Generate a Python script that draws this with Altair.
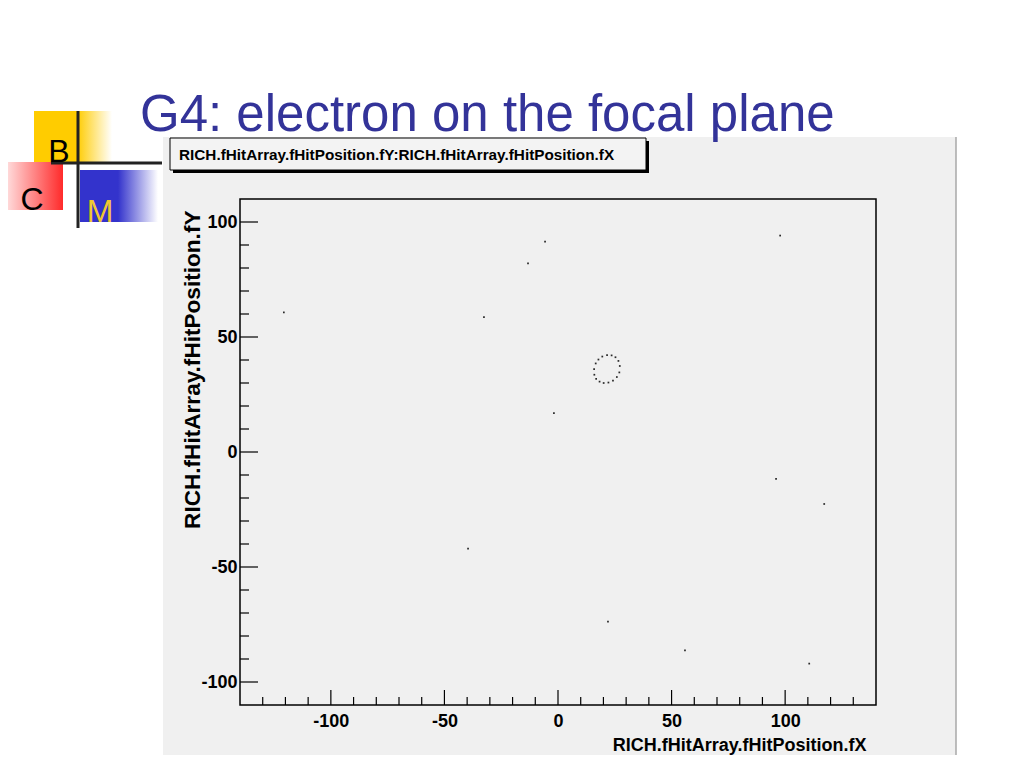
import altair as alt
import pandas as pd

# ---- data ----
# isolated hits on the focal plane
stray_x = [-120.7, -5.7, -13.2, 97.8, -32.6, -1.8, 96.0, 117.2, -39.6, 22.0, 55.9, 110.6]
stray_y = [60.7, 91.5, 82.0, 94.1, 58.6, 16.9, -11.7, -22.6, -42.0, -73.8, -86.3, -92.0]
# hits forming the electron's Cherenkov ring
ring_x = [27.2, 26.6, 25.3, 23.6, 21.6, 19.5, 17.8, 16.6, 15.9, 16.0, 16.8,
          18.3, 20.1, 22.2, 24.2, 25.9, 27.0]
ring_y = [37.4, 39.6, 41.2, 42.0, 42.1, 41.5, 40.2, 38.5, 36.0, 33.6, 31.8,
          30.6, 30.0, 30.2, 31.0, 32.6, 34.6]

x_major = [-100, -50, 0, 50, 100]
x_minor = [-130, -120, -110, -90, -80, -70, -60, -40, -30, -20, -10,
           10, 20, 30, 40, 60, 70, 80, 90, 110, 120, 130]
y_major = [-100, -50, 0, 50, 100]
y_minor = [-90, -80, -70, -60, -40, -30, -20, -10, 10, 20, 30, 40, 60, 70, 80, 90]

x_domain = [-140, 140]
y_domain = [-110, 110]

slide_title = "G4: electron on the focal plane"
hist_title = "RICH.fHitArray.fHitPosition.fY:RICH.fHitArray.fHitPosition.fX"
x_title = "RICH.fHitArray.fHitPosition.fX"
y_title = "RICH.fHitArray.fHitPosition.fY"

SANS = "Liberation Sans, Arial, Helvetica, sans-serif"
W, H = 636, 506

hits = pd.DataFrame({"x": stray_x + ring_x, "y": stray_y + ring_y})
one = alt.Data(values=[{"k": 0}])

xs = alt.Scale(domain=x_domain, nice=False, zero=False)
ys = alt.Scale(domain=y_domain, nice=False, zero=False)

x_axis = alt.Axis(values=x_major, ticks=False, domain=False, grid=False, zindex=1,
                  labelExpr="'' + datum.value",
                  labelPadding=7, labelFont=SANS, labelFontSize=18,
                  labelFontWeight="bold", labelColor="black",
                  title=x_title, titleFont=SANS, titleFontSize=18,
                  titleFontWeight="bold", titleColor="black",
                  titleAlign="right", titleBaseline="alphabetic",
                  titleAnchor="end", titleX=626, titleY=45)
y_axis = alt.Axis(values=y_major, ticks=False, domain=False, grid=False, zindex=1,
                  labelExpr="'' + datum.value",
                  labelPadding=3, labelFont=SANS, labelFontSize=18,
                  labelFontWeight="bold", labelColor="black",
                  title=y_title, titleFont=SANS, titleFontSize=22.6,
                  titleFontWeight="bold", titleColor="black",
                  titleAngle=-90, titleAlign="right", titleBaseline="alphabetic",
                  titleAnchor="end", titleX=-41, titleY=11)


def box(x, x2, y, y2, **kw):
    return alt.Chart(one).mark_rect(**kw).encode(
        x=alt.value(x), x2=alt.value(x2), y=alt.value(y), y2=alt.value(y2))


def line(x, x2, y, y2, **kw):
    return alt.Chart(one).mark_rule(**kw).encode(
        x=alt.value(x), x2=alt.value(x2), y=alt.value(y), y2=alt.value(y2))


def label(s, x, y, **kw):
    return alt.Chart(one).mark_text(text=s, **kw).encode(x=alt.value(x), y=alt.value(y))


# ROOT canvas background
canvas = box(-77, 716, -62, 580, color="#f0f0f0")
canvas_edge = line(716, 716, -62, 580, color="#a8a8a8", strokeWidth=1.5)

# histogram title box with shadow
shadow = box(-67, 409, -58, -26, color="black")
tbox = box(-70, 406, -61, -29, fill="#f3f3f3", stroke="black", strokeWidth=1)
ttext = label(hist_title, -61, -44, align="left", baseline="middle",
              font=SANS, fontSize=15.3, fontWeight="bold", color="black")

# slide title
stitle = label(slide_title, -100, -68, align="left", baseline="alphabetic",
               font=SANS, fontSize=51, color="#333399")

# logo
def grad(c1, c2):
    return alt.LinearGradient(gradient="linear",
                              stops=[alt.GradientStop(color=c1, offset=0),
                                     alt.GradientStop(color=c2, offset=1)],
                              x1=0, x2=1, y1=0, y2=0)

yellow = box(-206, -163, -88, -37, color="#ffcc00")
yellow_f = box(-163, -128, -88, -37, color=grad("#ffcc00", "#ffffff"))
red = box(-240, -177, -37, 11, color=grad("#fff2f2", "#ff2a2a"))
blue = box(-160, -122, -29, 23, color="#3333cc")
blue_f = box(-122, -82, -29, 23, color=grad("#3333cc", "#ffffff"))
vbar = line(-162, -162, -88, 29, color="#222222", strokeWidth=3)
hbar = line(-189, -78, -36, -36, color="#222222", strokeWidth=3)
lb = label("B", -181, -47, font=SANS, fontSize=32, color="black")
lc = label("C", -208, 1, font=SANS, fontSize=32, color="black")
lm = label("M", -140, 13, font=SANS, fontSize=32, color="#f0c830")

# frame
frame = box(0, W, 0, H, fill="transparent", stroke="black", strokeWidth=1.5)


# inside ticks
def yticks(vals, length):
    return alt.Chart(pd.DataFrame({"y": vals})).mark_rule(color="black", strokeWidth=1.2).encode(
        y=alt.Y("y:Q", scale=ys, axis=y_axis), x=alt.value(0), x2=alt.value(length))


def xticks(vals, length):
    return alt.Chart(pd.DataFrame({"x": vals})).mark_rule(color="black", strokeWidth=1.2).encode(
        x=alt.X("x:Q", scale=xs, axis=x_axis), y=alt.value(H), y2=alt.value(H - length))


points = alt.Chart(hits).mark_square(size=3, color="#2a2a2a", opacity=1).encode(
    x=alt.X("x:Q", scale=xs, axis=x_axis),
    y=alt.Y("y:Q", scale=ys, axis=y_axis),
)

chart = alt.layer(
    canvas, canvas_edge, shadow, tbox, ttext, stitle,
    yellow_f, yellow, red, blue_f, blue, vbar, hbar, lb, lc, lm,
    frame, yticks(y_major, 18), yticks(y_minor, 9), xticks(x_major, 15), xticks(x_minor, 8),
    points,
).properties(
    width=W, height=H,
    autosize=alt.AutoSizeParams(type="none"),
    padding={"left": 232, "top": 191, "right": 128, "bottom": 50},
    background="white",
).configure_view(stroke=None, fill=None)

chart.save("out.html", embed_options={"renderer": "svg", "actions": False})
